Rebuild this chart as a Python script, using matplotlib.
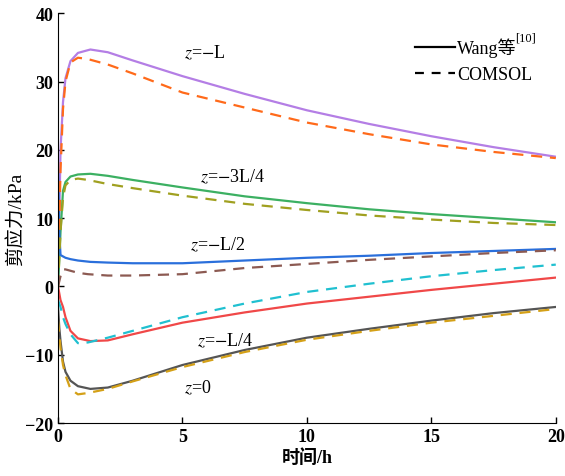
import matplotlib
matplotlib.use("Agg")
import matplotlib.pyplot as plt

plt.rcParams['font.family'] = ['Liberation Serif', 'Noto Sans CJK SC']
plt.rcParams['mathtext.fontset'] = 'stix'

# Wang et al. (solid)
t_wang = [0, 0.05, 0.1, 0.2, 0.3, 0.5, 0.8, 1.3, 2, 3, 5, 7.5, 10, 12.5, 15, 17.5, 20]
zL_wang = [0, 10, 20, 27, 30.5, 33, 34.2, 34.7, 34.3, 33.1, 30.8, 28.2, 25.8, 23.8, 22.0, 20.4, 19.0]
z3L4_wang = [0, 4, 8, 14, 15.3, 16.1, 16.4, 16.5, 16.2, 15.6, 14.5, 13.2, 12.2, 11.3, 10.6, 10.0, 9.4]
zL2_wang = [17, 8, 4.6, 4.4, 4.2, 4.0, 3.8, 3.6, 3.5, 3.4, 3.4, 3.8, 4.2, 4.5, 4.9, 5.2, 5.5]
zL4_wang = [0, -1, -2, -3, -4.5, -6.5, -7.6, -8.0, -7.9, -7.0, -5.3, -3.8, -2.5, -1.5, -0.5, 0.4, 1.3]
z0_wang = [-3, -6, -8, -11, -12.5, -13.8, -14.6, -15.0, -14.8, -13.8, -11.5, -9.3, -7.5, -6.2, -5.0, -3.9, -3.0]

# COMSOL (dashed)
t_com = [0, 0.1, 0.2, 0.3, 0.5, 0.8, 1.2, 2, 3, 5, 7.5, 10, 12.5, 15, 17.5, 20]
zL_com = [0, 17, 26, 30, 32.8, 33.5, 33.3, 32.5, 31.2, 28.4, 26.2, 24.0, 22.3, 20.8, 19.7, 18.8]
z3L4_com = [0, 8, 13, 14.8, 15.6, 15.8, 15.6, 15.0, 14.4, 13.3, 12.1, 11.2, 10.4, 9.8, 9.3, 9.0]
zL2_com = [0, 1.5, 2.5, 2.5, 2.3, 2.0, 1.8, 1.6, 1.6, 1.8, 2.7, 3.3, 3.9, 4.4, 4.9, 5.3]
zL4_com = [-2, -3, -4.5, -5.5, -7, -8.3, -8.2, -7.5, -6.5, -4.5, -2.5, -0.8, 0.4, 1.5, 2.4, 3.2]
z0_com = [-5, -9, -11.5, -13, -15, -15.8, -15.6, -15.0, -13.9, -11.8, -9.6, -7.8, -6.5, -5.3, -4.3, -3.3]

wang_series = [zL_wang, z3L4_wang, zL2_wang, zL4_wang, z0_wang]
com_series = [zL_com, z3L4_com, zL2_com, zL4_com, z0_com]
wang_colors = ['#b47ee5', '#3cb062', '#2a6fdb', '#f04848', '#555555']
com_colors = ['#ff6a1a', '#a0a020', '#8c5a52', '#20c0d0', '#d4a017']

labels = [r'$z$=$-$L', r'$z$=$-$3L/4', r'$z$=$-$L/2', r'$z$=$-$L/4', r'$z$=0']
label_pos = [(5.9, 34.3), (7.0, 16.1), (6.4, 6.2), (6.7, -7.8), (5.6, -14.8)]

fig = plt.figure(figsize=(5.65, 4.77), dpi=100)
ax = fig.add_axes([0.1027, 0.111, 0.881, 0.859])

for y, c in zip(wang_series, wang_colors):
    ax.plot(t_wang, y, color=c, lw=1.6)
for y, c in zip(com_series, com_colors):
    ax.plot(t_com, y, color=c, lw=1.6, dashes=(5, 3.5))

for txt, (x, y) in zip(labels, label_pos):
    ax.text(x, y, txt, fontsize=13, ha='center', va='center')

ax.plot([], [], color='black', lw=1.6, label='Wang等')
ax.plot([], [], color='black', lw=1.6, dashes=(4, 3.5), label='COMSOL')
leg = ax.legend(loc='upper right', frameon=False, fontsize=13, handlelength=2.2,
                handletextpad=0.1, bbox_to_anchor=(0.985, 0.98))

ax.set_xlim(0, 20)
ax.set_ylim(-20, 40)
ax.set_xticks([0, 5, 10, 15, 20])
ax.set_yticks([-20, -10, 0, 10, 20, 30, 40])
ax.set_yticklabels(['\u221220', '\u221210', '0', '10', '20', '30', '40'])
ax.tick_params(direction='in', length=4, width=1, labelsize=13)
for lab in ax.get_xticklabels() + ax.get_yticklabels():
    lab.set_fontweight('bold')
ax.spines['top'].set_visible(False)
ax.spines['right'].set_visible(False)
ax.set_xlabel('时间/h', fontsize=13, fontweight='bold', labelpad=2)
ax.set_ylabel('剪应力/kPa', fontsize=14)
ax.yaxis.set_label_coords(-0.066, 0.5)

# superscript reference mark after the legend entry
fig.canvas.draw()
bb = leg.get_texts()[0].get_window_extent()
x1, y1 = fig.transFigure.inverted().transform((bb.x1, bb.y1))
fig.text(x1 - 0.002, y1 - 0.012, '[10]', fontsize=9, va='bottom', ha='left')

fig.savefig('out.png', dpi=100)
